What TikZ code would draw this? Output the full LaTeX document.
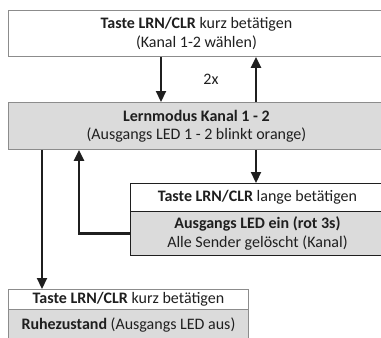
\documentclass[tikz,border=0pt]{standalone}
\usepackage{fontspec}
\setmainfont{Carlito}
\usetikzlibrary{arrows.meta}
\definecolor{boxgray}{gray}{0.86}
\definecolor{edgegray}{gray}{0.55}
\definecolor{ink}{gray}{0.12}
\begin{document}
\begin{tikzpicture}[x=1pt,y=-1pt,
  font=\fontsize{16}{19}\selectfont,
  panel/.style={draw=edgegray, line width=0.9pt, inner sep=0pt, anchor=north west,
    align=center, text=ink, minimum width=#1},
  light/.style={fill=white},
  shaded/.style={fill=boxgray},
  darkedge/.style={draw=ink},
  flow/.style={draw=ink, line width=2.2pt, -{Triangle[length=11pt,width=10pt]}}]
\useasboundingbox (0,0) rectangle (381,338);
\clip (0,0) rectangle (381,338);
\fill[white] (0,0) rectangle (381,338);

% boxes
\node[panel=376pt, light, minimum height=46pt] (top) at (8,10)
  {\textbf{Taste LRN/CLR} kurz betätigen\\(Kanal 1-2 wählen)};
\node[panel=376pt, shaded, minimum height=47pt, font=\fontsize{16}{18}\selectfont] (mode) at (8,102)
  {\textbf{Lernmodus Kanal 1 - 2}\\(Ausgangs LED 1 - 2 blinkt orange)};
\node[panel=254pt, light, darkedge, minimum height=28pt] (longpress) at (130,183)
  {\textbf{Taste LRN/CLR} lange betätigen};
\node[panel=254pt, shaded, darkedge, minimum height=44pt] (cleared) at (130,211)
  {\textbf{Ausgangs LED ein (rot 3s)}\\Alle Sender gelöscht (Kanal)};
\node[panel=240pt, light, minimum height=20pt] (shortpress) at (8,289)
  {\textbf{Taste LRN/CLR} kurz betätigen};
\node[panel=240pt, shaded, minimum height=32pt] (rest) at (8,309)
  {\textbf{Ruhezustand} (Ausgangs LED aus)};

\node[text=ink, inner sep=0pt] (twice) at (211,79) {2x};

% connector columns
\coordinate (c1) at (161,0);
\coordinate (c2) at (256,0);
\coordinate (c3) at (42,0);
\coordinate (c4) at (79,0);

\draw[flow] (c1 |- top.south) -- (c1 |- mode.north);
\draw[flow] (c2 |- mode.north) -- (c2 |- top.south);
\draw[flow] (c2 |- mode.south) -- (c2 |- longpress.north);
\draw[flow] (c3 |- mode.south) -- (c3 |- shortpress.north);
\draw[flow] (cleared.west) -| (c4 |- mode.south);
\end{tikzpicture}
\end{document}
